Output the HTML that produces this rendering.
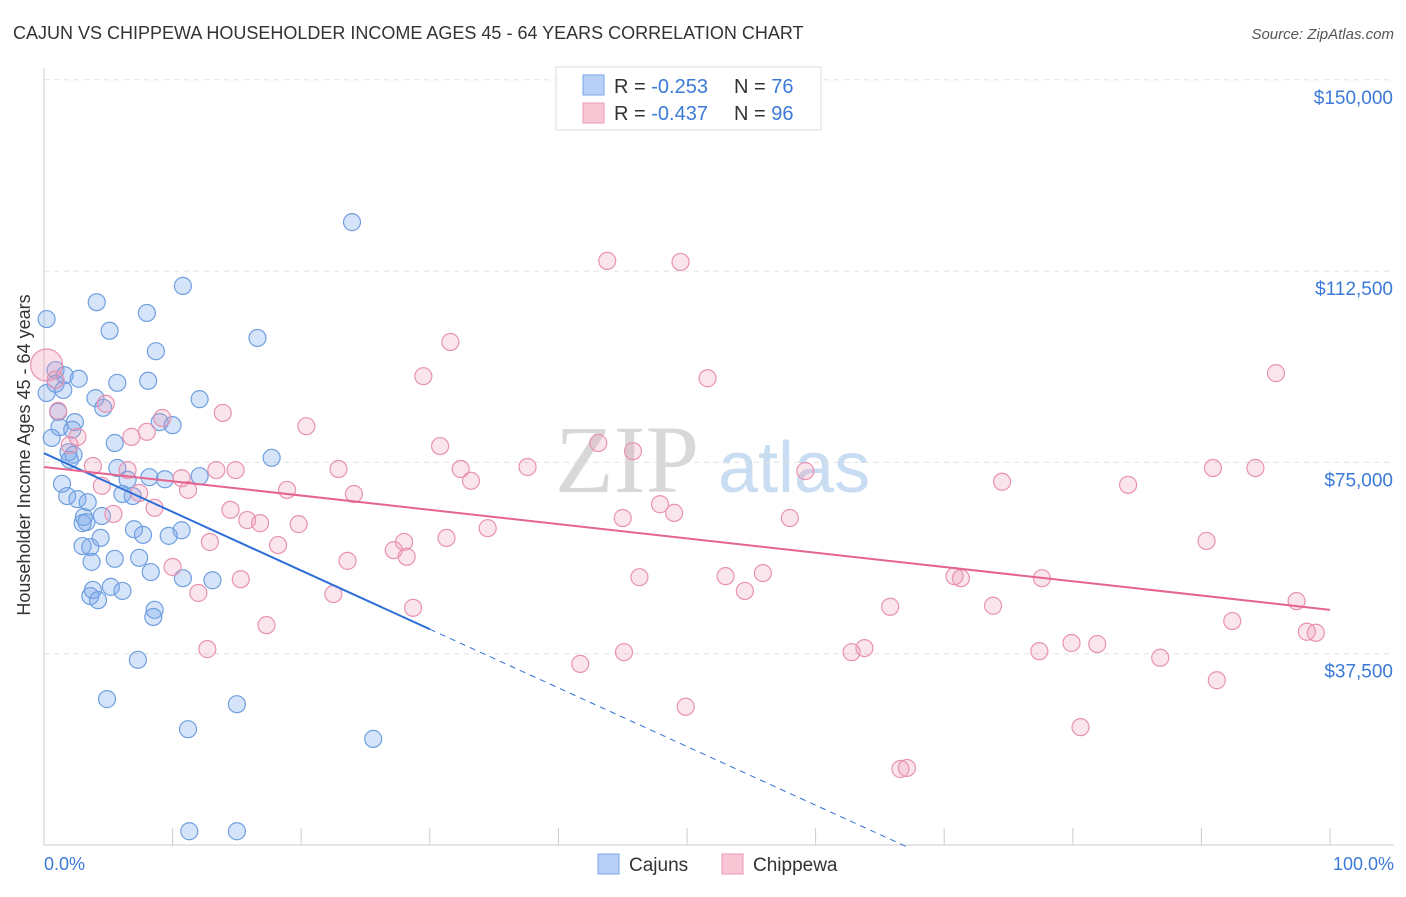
<!DOCTYPE html>
<html><head><meta charset="utf-8"><style>
body{margin:0;background:#fff;font-family:"Liberation Sans",sans-serif}
</style></head><body>
<svg id="c" width="1406" height="892" xmlns="http://www.w3.org/2000/svg" style="font-family:'Liberation Sans',sans-serif">
<text x="13" y="39" font-size="18" fill="#333">CAJUN VS CHIPPEWA HOUSEHOLDER INCOME AGES 45 - 64 YEARS CORRELATION CHART</text>
<text x="1394" y="39" font-size="15" fill="#555" font-style="italic" text-anchor="end">Source: ZipAtlas.com</text>
<g>
<text x="555" y="492" font-size="96" font-family="Liberation Serif,serif" fill="#d8d8d8">ZIP</text>
<text x="718" y="492" font-size="72" fill="#c8dcf2">atlas</text>
</g>
<g id="grid"></g><g id="axes"></g><g id="marks"></g>
<text x="30" y="455" font-size="18" fill="#333" text-anchor="middle" transform="rotate(-90 30 455)">Householder Income Ages 45 - 64 years</text>
<text x="44" y="870" font-size="18" fill="#3b7ad8">0.0%</text>
<text x="1394" y="870" font-size="18" fill="#3b7ad8" text-anchor="end">100.0%</text>
<g>
<rect x="556" y="67" width="265" height="63" fill="#fff" stroke="#ddd"/>
<rect x="583" y="75" width="21" height="20" fill="#b8d0f5" stroke="#7aa6e8"/>
<rect x="583" y="103" width="21" height="20" fill="#f9c6d6" stroke="#ec9ab5"/>
<text x="614" y="93" font-size="20" fill="#333">R = <tspan fill="#3b7ad8">-0.253</tspan></text>
<text x="734" y="93" font-size="20" fill="#333">N = <tspan fill="#3b7ad8">76</tspan></text>
<text x="614" y="120" font-size="20" fill="#333">R = <tspan fill="#3b7ad8">-0.437</tspan></text>
<text x="734" y="120" font-size="20" fill="#333">N = <tspan fill="#3b7ad8">96</tspan></text>
</g>
<g>
<rect x="598" y="854" width="21" height="20" fill="#b8d0f5" stroke="#7aa6e8"/>
<text x="629" y="871" font-size="19" fill="#333">Cajuns</text>
<rect x="722" y="854" width="21" height="20" fill="#f9c6d6" stroke="#ec9ab5"/>
<text x="753" y="871" font-size="19" fill="#333">Chippewa</text>
</g>
</svg>
<script>
const yTicks=[37.5,75,112.5,150];
const yTickLabels=["$37,500","$75,000","$112,500","$150,000"];
const xTicks=[0,10,20,30,40,50,60,70,80,90,100];
const cajunX=[23.95,10.8,4.1,8.0,0.2,5.1,16.6,8.7,0.9,1.6,2.7,5.7,8.1,0.9,1.5,0.2,4.0,12.1,4.6,1.1,2.4,9.0,10.0,1.2,2.2,0.6,5.5,1.9,2.3,17.7,2.0,5.7,8.2,12.1,9.4,1.4,6.5,1.8,2.6,6.1,6.9,3.4,4.5,3.1,3.3,3.0,10.7,7.0,7.7,9.7,4.4,3.0,3.6,7.4,5.5,3.7,8.3,10.8,13.1,5.2,3.8,6.1,3.6,4.2,8.6,8.5,7.3,4.9,15.0,11.2,25.6,11.3,15.0];
const cajunY=[122.1,109.6,106.4,104.3,103.1,100.8,99.4,96.8,93.1,92.1,91.4,90.6,91.0,90.4,89.2,88.6,87.6,87.4,85.7,84.9,82.9,82.9,82.3,81.9,81.4,79.8,78.8,77.0,76.5,75.9,75.5,73.9,72.1,72.3,71.7,70.8,71.6,68.4,67.8,68.8,68.4,67.2,64.5,64.3,63.3,63.1,61.7,61.9,60.8,60.6,60.2,58.6,58.4,56.3,56.1,55.5,53.5,52.3,51.9,50.6,50.0,49.8,48.8,48.0,46.1,44.7,36.3,28.6,27.6,22.7,20.8,2.7,2.7];
const chipX=[43.8,49.5,31.6,29.5,51.6,95.8,0.9,1.1,4.8,13.9,20.4,9.2,43.1,30.8,45.8,2.6,6.8,8.0,2.0,3.8,6.5,13.4,14.9,22.9,32.4,37.6,59.2,90.9,94.2,33.2,74.5,84.3,4.5,10.7,11.2,7.4,18.9,24.1,47.9,8.6,14.5,49.0,58.0,45.0,5.4,15.8,16.8,19.8,34.5,12.9,31.3,28.0,27.2,90.4,18.2,28.2,23.6,10.0,46.3,53.0,15.3,55.9,70.8,71.3,77.6,54.5,12.0,22.5,28.7,65.8,73.8,97.4,92.4,17.3,98.2,98.9,63.8,62.8,77.4,79.9,81.9,12.7,45.1,86.8,41.7,91.2,49.9,80.6,66.6,67.1];
const chipY=[114.5,114.3,98.6,91.9,91.5,92.5,91.2,85.1,86.5,84.7,82.1,83.7,78.8,78.2,77.2,80.0,80.0,81.0,78.4,74.3,73.5,73.5,73.5,73.7,73.7,74.1,73.3,73.9,73.9,71.4,71.2,70.6,70.4,71.9,69.6,69.0,69.6,68.8,66.8,66.1,65.7,65.1,64.1,64.1,64.9,63.7,63.1,62.9,62.1,59.4,60.2,59.4,57.8,59.6,58.8,56.5,55.7,54.5,52.5,52.7,52.1,53.3,52.7,52.3,52.3,49.8,49.4,49.2,46.5,46.7,46.9,47.8,43.9,43.1,41.8,41.6,38.6,37.8,38.0,39.6,39.4,38.4,37.8,36.7,35.5,32.3,27.1,23.1,14.9,15.1];
const bigChip=[0.2,94.1];
const cajunTrend=[76.8,-1.15,30,67];
const chipTrend=[74.1,-0.28];
const NS="http://www.w3.org/2000/svg";
const X0=44,X1=1330,Y0=845,YPER=191.3/37.5;
const sx=v=>X0+(X1-X0)*v/100, sy=v=>Y0-v*YPER;
function mk(t,a,p){const e=document.createElementNS(NS,t);for(const k in a)e.setAttribute(k,a[k]);document.getElementById(p).appendChild(e);return e;}
yTicks.forEach((v,i)=>{
 const g=mk('line',{x1:44,x2:1394,y1:sy(v),y2:sy(v),stroke:'#e0e0e0','stroke-dasharray':'5,5'},'grid');
 
 
 const t=mk('text',{x:1393,y:sy(v)+24,'font-size':19,fill:'#3b7ad8','text-anchor':'end'},'axes');
 t.textContent=yTickLabels[i];
 
 
});
let a=mk('line',{x1:44,x2:44,y1:68,y2:845,stroke:'#ccc'},'axes');


a=mk('line',{x1:44,x2:1394,y1:845,y2:845,stroke:'#ccc'},'axes');


xTicks.forEach(v=>{const t=mk('line',{x1:sx(v),x2:sx(v),y1:828,y2:845,stroke:'#ccc'},'axes');
 
 });
function pts(xs,ys,fill,st,name,r){xs.forEach((x,i)=>{const c=mk('circle',{cx:sx(x),cy:sy(ys[i]),r:r,fill:fill,stroke:st,'stroke-width':1.2},'marks');
 
 });}
pts(cajunX,cajunY,'rgba(120,165,235,0.3)','#6f9fe0','cajun-point',8.5);
pts(chipX,chipY,'rgba(240,150,180,0.25)','#e892b0','chippewa-point',8.5);
pts([bigChip[0]],[bigChip[1]],'rgba(240,150,180,0.3)','#e892b0','chippewa-point-large',16);
let l=mk('line',{x1:sx(0),y1:sy(cajunTrend[0]),x2:sx(cajunTrend[2]),y2:sy(cajunTrend[0]+cajunTrend[1]*cajunTrend[2]),stroke:'#2f6fd6','stroke-width':2},'marks');


l=mk('line',{x1:sx(cajunTrend[2]),y1:sy(cajunTrend[0]+cajunTrend[1]*cajunTrend[2]),x2:sx(cajunTrend[3]),y2:sy(cajunTrend[0]+cajunTrend[1]*cajunTrend[3]),stroke:'#2f6fd6','stroke-width':1,'stroke-dasharray':'6,5'},'marks');


l=mk('line',{x1:sx(0),y1:sy(chipTrend[0]),x2:sx(100),y2:sy(chipTrend[0]+chipTrend[1]*100),stroke:'#e4648e','stroke-width':2},'marks');


</script>
</body></html>
